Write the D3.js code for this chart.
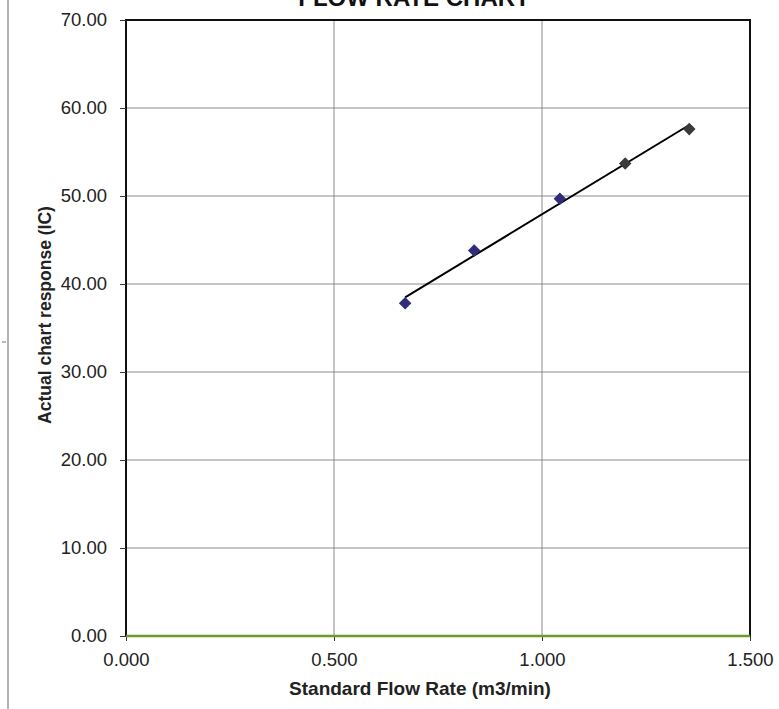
<!DOCTYPE html>
<html><head><meta charset="utf-8">
<script src="https://cdn.jsdelivr.net/npm/d3@7"></script>
<style>body{margin:0;background:#fff}svg{display:block}text{font-family:"Liberation Sans",Arial,sans-serif}</style>
</head><body>
<svg id="c" width="779" height="709"></svg>
<script>
const flowRate = [0.671, 0.837, 1.043, 1.200, 1.354];
const response = [37.8, 43.8, 49.7, 53.7, 57.6];
const pointColors = ["#2f2c78", "#2f2c78", "#2f2c78", "#3a3a3a", "#3a3a3a"];
const baselineX = [0, 1.5];
const baselineY = [0, 0];
const xTicks = [0, 0.5, 1.0, 1.5];
const yTicks = [0, 10, 20, 30, 40, 50, 60, 70];

const svg = d3.select("#c");
const L = 126, R = 750, T = 20, B = 636;
const x = d3.scaleLinear().domain([0, 1.5]).range([L, R]);
const y = d3.scaleLinear().domain([0, 70]).range([B, T]);

// scan page edge
svg.append("line").attr("x1", 8).attr("x2", 8).attr("y1", 0).attr("y2", 709).attr("stroke", "#999").attr("stroke-width", 1.5);
svg.append("line").attr("x1", 2).attr("x2", 6).attr("y1", 342).attr("y2", 342).attr("stroke", "#777");

// gridlines
svg.append("g").selectAll("line").data(yTicks.filter(d => d > 0 && d < 70)).join("line")
  .attr("x1", L).attr("x2", R).attr("y1", d => y(d)).attr("y2", d => y(d)).attr("stroke", "#8a8a8a").attr("stroke-width", 1);
svg.append("g").selectAll("line").data(xTicks.filter(d => d > 0 && d < 1.5)).join("line")
  .attr("y1", T).attr("y2", B).attr("x1", d => x(d)).attr("x2", d => x(d)).attr("stroke", "#8a8a8a").attr("stroke-width", 1);

// plot border
svg.append("rect").attr("x", L).attr("y", T).attr("width", R - L).attr("height", B - T)
  .attr("fill", "none").attr("stroke", "#111").attr("stroke-width", 2);

// axes
const yAxis = d3.axisLeft(y).tickValues(yTicks).tickFormat(d3.format(".2f")).tickSize(6).tickPadding(13);
const gy = svg.append("g").attr("transform", `translate(${L},0)`).call(yAxis);
gy.select(".domain").remove();
gy.selectAll("text").attr("font-size", 18.5).attr("fill", "#222");
gy.selectAll("line").attr("stroke", "#333");

const xAxis = d3.axisBottom(x).tickValues(xTicks).tickFormat(d3.format(".3f")).tickSize(5).tickPadding(12);
const gx = svg.append("g").attr("transform", `translate(0,${B})`).call(xAxis);
gx.select(".domain").remove();
gx.selectAll("text").attr("font-size", 18.5).attr("fill", "#222");
gx.selectAll("line").attr("stroke", "#333");

// baseline series (green)
svg.append("path").datum(baselineX.map((d, i) => [d, baselineY[i]]))
  .attr("d", d3.line().x(d => x(d[0])).y(d => y(d[1])))
  .attr("stroke", "#6f9a2a").attr("stroke-width", 2.5).attr("fill", "none");

// linear trendline
const mx = d3.mean(flowRate), my = d3.mean(response);
let sxy = 0, sxx = 0;
flowRate.forEach((v, i) => { sxy += (v - mx) * (response[i] - my); sxx += (v - mx) * (v - mx); });
const slope = sxy / sxx, icpt = my - slope * mx;
const x0 = d3.min(flowRate), x1 = d3.max(flowRate);
svg.append("line").attr("x1", x(x0)).attr("y1", y(icpt + slope * x0)).attr("x2", x(x1)).attr("y2", y(icpt + slope * x1))
  .attr("stroke", "#000").attr("stroke-width", 2);

// points
svg.append("g").selectAll("path").data(flowRate).join("path")
  .attr("d", d3.symbol().type(d3.symbolDiamond2).size(100))
  .attr("transform", (d, i) => `translate(${x(d)},${y(response[i])})`)
  .attr("fill", (d, i) => pointColors[i]);

// titles
svg.append("text").attr("x", 414).attr("y", 6).attr("text-anchor", "middle").attr("font-weight", "bold").attr("font-size", 24).attr("fill", "#111").text("FLOW RATE CHART");
svg.append("text").attr("x", 420).attr("y", 695).attr("text-anchor", "middle").attr("font-weight", "bold").attr("font-size", 19).attr("fill", "#222").text("Standard Flow Rate (m3/min)");
svg.append("text").attr("transform", "translate(51,315) rotate(-90)").attr("text-anchor", "middle").attr("font-weight", "bold").attr("font-size", 17.5).attr("fill", "#222").text("Actual chart response (IC)");
</script>
</body></html>
